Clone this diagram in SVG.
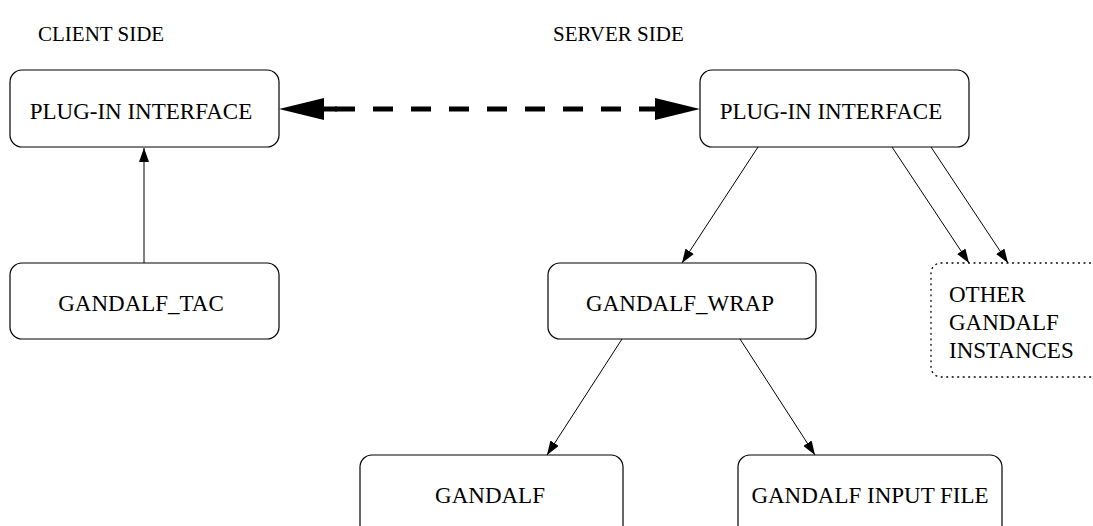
<svg xmlns="http://www.w3.org/2000/svg" width="1093" height="526" viewBox="0 0 1093 526">
  <style>
    .box { fill: #ffffff; stroke: #000000; stroke-width: 1.2; }
    .dotbox { fill: none; stroke: #000000; stroke-width: 1.3; stroke-dasharray: 1 4.5; stroke-linecap: round; }
    .lbl { font-family: "Liberation Serif", "Times New Roman", "DejaVu Serif", serif; font-size: 23px; fill: #000000; }
    .ttl { font-size: 21px; }
    .mid { text-anchor: middle; }
    .conn { stroke: #000000; stroke-width: 1; fill: none; }
    .dash { stroke: #000000; stroke-width: 5; fill: none; stroke-dasharray: 20 18; }
  </style>
  <defs>
    <marker id="ah" viewBox="0 0 14 10" refX="14" refY="5" markerWidth="14" markerHeight="10" markerUnits="userSpaceOnUse" orient="auto">
      <path d="M0,0 L14,5 L0,10 Z" fill="#000000"/>
    </marker>
  </defs>
  <rect width="1093" height="526" fill="#ffffff"/>

  <g id="titles">
    <text class="lbl ttl" x="38" y="41">CLIENT SIDE</text>
    <text class="lbl ttl" x="553" y="41">SERVER SIDE</text>
  </g>

  <g id="connectors">
    <line class="conn" x1="144" y1="263" x2="144" y2="148" marker-end="url(#ah)"/>
    <line class="dash" x1="335" y1="109" x2="655" y2="109"/>
    <line x1="322" y1="109" x2="337" y2="109" stroke="#000" stroke-width="5"/>
    <path d="M279,109 L324,98 L324,120 Z" fill="#000000"/>
    <path d="M700,109 L655,98 L655,120 Z" fill="#000000"/>
    <line class="conn" x1="758" y1="147" x2="682" y2="263" marker-end="url(#ah)"/>
    <line class="conn" x1="892" y1="147" x2="969" y2="263" marker-end="url(#ah)"/>
    <line class="conn" x1="931" y1="147" x2="1008" y2="263" marker-end="url(#ah)"/>
    <line class="conn" x1="622" y1="339" x2="547" y2="455" marker-end="url(#ah)"/>
    <line class="conn" x1="740" y1="339" x2="815" y2="455" marker-end="url(#ah)"/>
  </g>

  <g id="client-plugin">
    <rect class="box" x="10" y="70" width="269" height="77" rx="12"/>
    <text class="lbl mid" x="141" y="119">PLUG-IN INTERFACE</text>
  </g>
  <g id="server-plugin">
    <rect class="box" x="700" y="70" width="269" height="77" rx="12"/>
    <text class="lbl mid" x="831" y="119">PLUG-IN INTERFACE</text>
  </g>
  <g id="gandalf-tac">
    <rect class="box" x="10" y="263" width="269" height="76" rx="12"/>
    <text class="lbl mid" x="141" y="311">GANDALF_TAC</text>
  </g>
  <g id="gandalf-wrap">
    <rect class="box" x="548" y="263" width="268" height="76" rx="12"/>
    <text class="lbl mid" x="680" y="311">GANDALF_WRAP</text>
  </g>
  <g id="other-instances">
    <rect class="dotbox" x="931" y="263" width="200" height="114" rx="10"/>
    <text class="lbl" x="949" y="302">OTHER</text>
    <text class="lbl" x="949" y="330">GANDALF</text>
    <text class="lbl" x="949" y="358">INSTANCES</text>
  </g>
  <g id="gandalf">
    <rect class="box" x="360" y="455" width="263" height="90" rx="12"/>
    <text class="lbl mid" x="490" y="503">GANDALF</text>
  </g>
  <g id="gandalf-input">
    <rect class="box" x="738" y="455" width="264" height="90" rx="12"/>
    <text class="lbl mid" x="870" y="503">GANDALF INPUT FILE</text>
  </g>
</svg>
